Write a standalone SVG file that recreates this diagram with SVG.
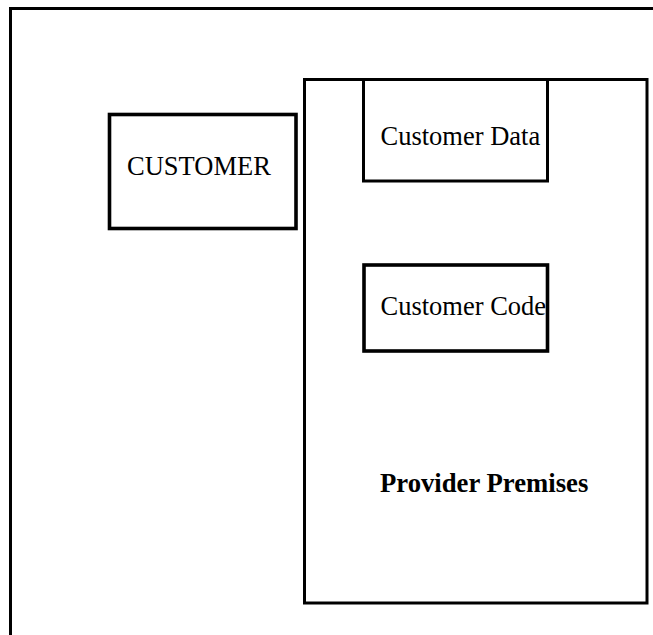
<svg xmlns="http://www.w3.org/2000/svg" width="653" height="635" viewBox="0 0 653 635">
  <style>
    .box { fill: #ffffff; stroke: #000000; stroke-width: 3; }
    .thick { stroke-width: 3.6; }
    .label { font-family: "Liberation Serif", "Times New Roman", serif; font-size: 26.5px; fill: #000000; }
    .bold { font-weight: bold; font-size: 26.7px; }
  </style>
  <rect width="653" height="635" fill="#ffffff"/>

  <!-- outer frame: top and left edges only -->
  <g id="frame">
    <polyline points="10.5,635 10.5,8.5 653,8.5" fill="none" stroke="#000000" stroke-width="3"/>
  </g>

  <g id="provider">
    <rect class="box" x="304.5" y="79.5" width="342.5" height="523.5"/>
    <text class="label bold" x="380" y="491.5">Provider Premises</text>
  </g>

  <g id="customer">
    <rect class="box thick" x="109.5" y="114.5" width="186.5" height="114"/>
    <text class="label" x="127" y="175">CUSTOMER</text>
  </g>

  <g id="customer-data">
    <rect class="box" x="363.5" y="79.5" width="184" height="101.5"/>
    <text class="label" x="380.5" y="145">Customer Data</text>
  </g>

  <g id="customer-code">
    <rect class="box thick" x="364" y="265" width="183.5" height="86"/>
    <text class="label" x="380.5" y="315">Customer Code</text>
  </g>

  <g id="connectors"></g>
</svg>
